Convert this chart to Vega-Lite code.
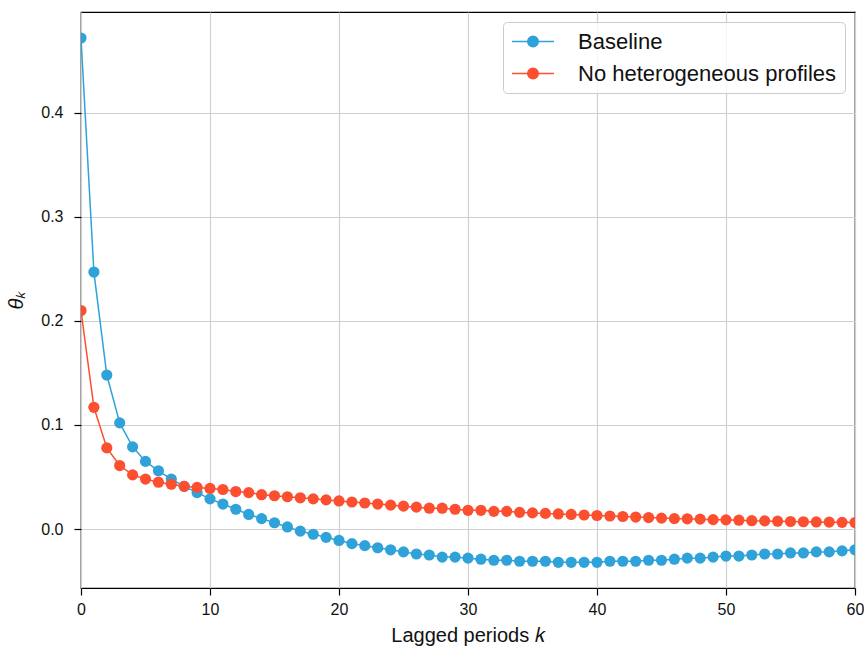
{
  "$schema": "https://vega.github.io/schema/vega-lite/v6.json",
  "autosize": {"type": "none"},
  "width": 774,
  "height": 576,
  "padding": {"left": 81, "top": 12, "right": 9, "bottom": 61},
  "background": "white",
  "config": {
    "font": "Liberation Sans",
    "view": {"stroke": "black", "strokeWidth": 1.25},
    "axis": {
      "domain": false,
      "grid": true,
      "gridColor": "#d0d0d0",
      "gridWidth": 1.2,
      "ticks": true,
      "tickColor": "black",
      "tickSize": 7,
      "tickWidth": 1.2,
      "labelColor": "#111111",
      "labelFontSize": 16,
      "labelFont": "Liberation Sans",
      "labelFlush": false,
      "titleColor": "#111111",
      "titleFontSize": 20,
      "titleFontWeight": "normal",
      "titleFont": "Liberation Sans"
    }
  },
  "data": {
    "values": [
      {"k":0,"series":"Baseline","theta":0.472},{"k":1,"series":"Baseline","theta":0.247},{"k":2,"series":"Baseline","theta":0.148},{"k":3,"series":"Baseline","theta":0.102},{"k":4,"series":"Baseline","theta":0.079},{"k":5,"series":"Baseline","theta":0.065},{"k":6,"series":"Baseline","theta":0.056},{"k":7,"series":"Baseline","theta":0.048},{"k":8,"series":"Baseline","theta":0.041},{"k":9,"series":"Baseline","theta":0.035},{"k":10,"series":"Baseline","theta":0.029},{"k":11,"series":"Baseline","theta":0.024},{"k":12,"series":"Baseline","theta":0.019},{"k":13,"series":"Baseline","theta":0.014},{"k":14,"series":"Baseline","theta":0.010},{"k":15,"series":"Baseline","theta":0.006},{"k":16,"series":"Baseline","theta":0.002},{"k":17,"series":"Baseline","theta":-0.002},{"k":18,"series":"Baseline","theta":-0.005},{"k":19,"series":"Baseline","theta":-0.008},{"k":20,"series":"Baseline","theta":-0.011},{"k":21,"series":"Baseline","theta":-0.014},{"k":22,"series":"Baseline","theta":-0.016},{"k":23,"series":"Baseline","theta":-0.018},{"k":24,"series":"Baseline","theta":-0.020},{"k":25,"series":"Baseline","theta":-0.022},{"k":26,"series":"Baseline","theta":-0.024},{"k":27,"series":"Baseline","theta":-0.025},{"k":28,"series":"Baseline","theta":-0.027},{"k":29,"series":"Baseline","theta":-0.027},{"k":30,"series":"Baseline","theta":-0.028},{"k":31,"series":"Baseline","theta":-0.029},{"k":32,"series":"Baseline","theta":-0.030},{"k":33,"series":"Baseline","theta":-0.030},{"k":34,"series":"Baseline","theta":-0.031},{"k":35,"series":"Baseline","theta":-0.031},{"k":36,"series":"Baseline","theta":-0.031},{"k":37,"series":"Baseline","theta":-0.032},{"k":38,"series":"Baseline","theta":-0.032},{"k":39,"series":"Baseline","theta":-0.032},{"k":40,"series":"Baseline","theta":-0.032},{"k":41,"series":"Baseline","theta":-0.031},{"k":42,"series":"Baseline","theta":-0.031},{"k":43,"series":"Baseline","theta":-0.031},{"k":44,"series":"Baseline","theta":-0.030},{"k":45,"series":"Baseline","theta":-0.030},{"k":46,"series":"Baseline","theta":-0.029},{"k":47,"series":"Baseline","theta":-0.028},{"k":48,"series":"Baseline","theta":-0.028},{"k":49,"series":"Baseline","theta":-0.027},{"k":50,"series":"Baseline","theta":-0.026},{"k":51,"series":"Baseline","theta":-0.026},{"k":52,"series":"Baseline","theta":-0.025},{"k":53,"series":"Baseline","theta":-0.024},{"k":54,"series":"Baseline","theta":-0.024},{"k":55,"series":"Baseline","theta":-0.023},{"k":56,"series":"Baseline","theta":-0.023},{"k":57,"series":"Baseline","theta":-0.022},{"k":58,"series":"Baseline","theta":-0.022},{"k":59,"series":"Baseline","theta":-0.021},{"k":60,"series":"Baseline","theta":-0.020},
      {"k":0,"series":"No heterogeneous profiles","theta":0.210},{"k":1,"series":"No heterogeneous profiles","theta":0.117},{"k":2,"series":"No heterogeneous profiles","theta":0.078},{"k":3,"series":"No heterogeneous profiles","theta":0.061},{"k":4,"series":"No heterogeneous profiles","theta":0.052},{"k":5,"series":"No heterogeneous profiles","theta":0.048},{"k":6,"series":"No heterogeneous profiles","theta":0.045},{"k":7,"series":"No heterogeneous profiles","theta":0.043},{"k":8,"series":"No heterogeneous profiles","theta":0.041},{"k":9,"series":"No heterogeneous profiles","theta":0.040},{"k":10,"series":"No heterogeneous profiles","theta":0.039},{"k":11,"series":"No heterogeneous profiles","theta":0.038},{"k":12,"series":"No heterogeneous profiles","theta":0.036},{"k":13,"series":"No heterogeneous profiles","theta":0.035},{"k":14,"series":"No heterogeneous profiles","theta":0.033},{"k":15,"series":"No heterogeneous profiles","theta":0.032},{"k":16,"series":"No heterogeneous profiles","theta":0.031},{"k":17,"series":"No heterogeneous profiles","theta":0.030},{"k":18,"series":"No heterogeneous profiles","theta":0.029},{"k":19,"series":"No heterogeneous profiles","theta":0.028},{"k":20,"series":"No heterogeneous profiles","theta":0.027},{"k":21,"series":"No heterogeneous profiles","theta":0.026},{"k":22,"series":"No heterogeneous profiles","theta":0.025},{"k":23,"series":"No heterogeneous profiles","theta":0.024},{"k":24,"series":"No heterogeneous profiles","theta":0.023},{"k":25,"series":"No heterogeneous profiles","theta":0.022},{"k":26,"series":"No heterogeneous profiles","theta":0.021},{"k":27,"series":"No heterogeneous profiles","theta":0.020},{"k":28,"series":"No heterogeneous profiles","theta":0.020},{"k":29,"series":"No heterogeneous profiles","theta":0.019},{"k":30,"series":"No heterogeneous profiles","theta":0.018},{"k":31,"series":"No heterogeneous profiles","theta":0.018},{"k":32,"series":"No heterogeneous profiles","theta":0.017},{"k":33,"series":"No heterogeneous profiles","theta":0.017},{"k":34,"series":"No heterogeneous profiles","theta":0.016},{"k":35,"series":"No heterogeneous profiles","theta":0.0155},{"k":36,"series":"No heterogeneous profiles","theta":0.015},{"k":37,"series":"No heterogeneous profiles","theta":0.0145},{"k":38,"series":"No heterogeneous profiles","theta":0.014},{"k":39,"series":"No heterogeneous profiles","theta":0.0135},{"k":40,"series":"No heterogeneous profiles","theta":0.013},{"k":41,"series":"No heterogeneous profiles","theta":0.0125},{"k":42,"series":"No heterogeneous profiles","theta":0.012},{"k":43,"series":"No heterogeneous profiles","theta":0.0115},{"k":44,"series":"No heterogeneous profiles","theta":0.011},{"k":45,"series":"No heterogeneous profiles","theta":0.0105},{"k":46,"series":"No heterogeneous profiles","theta":0.010},{"k":47,"series":"No heterogeneous profiles","theta":0.0098},{"k":48,"series":"No heterogeneous profiles","theta":0.0095},{"k":49,"series":"No heterogeneous profiles","theta":0.009},{"k":50,"series":"No heterogeneous profiles","theta":0.0088},{"k":51,"series":"No heterogeneous profiles","theta":0.0085},{"k":52,"series":"No heterogeneous profiles","theta":0.008},{"k":53,"series":"No heterogeneous profiles","theta":0.0078},{"k":54,"series":"No heterogeneous profiles","theta":0.0075},{"k":55,"series":"No heterogeneous profiles","theta":0.0072},{"k":56,"series":"No heterogeneous profiles","theta":0.007},{"k":57,"series":"No heterogeneous profiles","theta":0.0068},{"k":58,"series":"No heterogeneous profiles","theta":0.0066},{"k":59,"series":"No heterogeneous profiles","theta":0.0064},{"k":60,"series":"No heterogeneous profiles","theta":0.0062}
    ]
  },
  "encoding": {
    "x": {
      "field": "k", "type": "quantitative",
      "scale": {"domain": [0, 60], "nice": false, "zero": false},
      "axis": {"values": [0,10,20,30,40,50,60], "title": "Lagged periods 𝑘", "titlePadding": 8, "labelPadding": 6}
    },
    "y": {
      "field": "theta", "type": "quantitative",
      "scale": {"domain": [-0.0567, 0.497], "nice": false, "zero": false},
      "axis": {"values": [0, 0.1, 0.2, 0.3, 0.4], "format": ".1f", "title": "θₖ", "titleFontStyle": "italic", "titlePadding": 14, "labelPadding": 11}
    },
    "color": {
      "field": "series", "type": "nominal",
      "scale": {"domain": ["Baseline", "No heterogeneous profiles"], "range": ["#30a2da", "#fc4f30"]},
      "legend": {
        "title": null,
        "orient": "top-right",
        "offset": 10,
        "symbolType": "M-1,0L3,0M0.5,0A0.5,0.5 0 1,1 1.5,0A0.5,0.5 0 1,1 0.5,0Z",
        "symbolSize": 441,
        "symbolStrokeWidth": 1.5,
        "labelFontSize": 22,
        "labelFont": "Liberation Sans",
        "labelColor": "#111111",
        "labelLimit": 0,
        "labelOffset": 44,
        "rowPadding": 9,
        "padding": 8,
        "strokeColor": "#cccccc",
        "fillColor": "rgba(255,255,255,0.8)",
        "cornerRadius": 4
      }
    }
  },
  "layer": [
    {"mark": {"type": "line", "strokeWidth": 1.5, "clip": true}},
    {"mark": {"type": "point", "filled": true, "opacity": 1, "size": 125, "clip": true}}
  ]
}
